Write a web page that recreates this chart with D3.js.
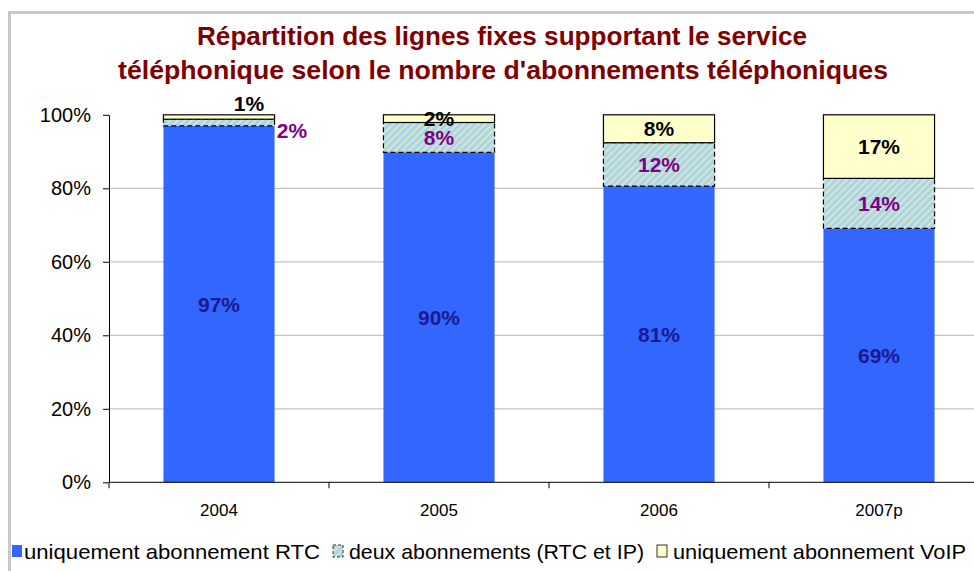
<!DOCTYPE html>
<html>
<head>
<meta charset="utf-8">
<script src="https://cdn.jsdelivr.net/npm/d3@7"></script>
<style>
  body { margin: 0; background: #fff; }
  text { font-family: "Liberation Sans", Arial, sans-serif; }
</style>
</head>
<body>
<div id="graphique"></div>
<script>
// Données
const annees = ["2004", "2005", "2006", "2007p"];
const rtcSeul = [97.0, 89.8, 80.6, 69.1];
const deuxAbonnements = [1.8, 8.1, 11.8, 13.6];
const voipSeul = [1.2, 2.1, 7.6, 17.3];
const etiquettesRtc = ["97%", "90%", "81%", "69%"];
const etiquettesDeux = ["2%", "8%", "12%", "14%"];
const etiquettesVoip = ["1%", "2%", "8%", "17%"];
const ticksY = [0, 20, 40, 60, 80, 100];
const nomsSeries = ["uniquement abonnement RTC", "deux abonnements (RTC et IP)", "uniquement abonnement VoIP"];

const largeur = 974, hauteur = 571;

const svg = d3.select("#graphique")
  .append("svg")
  .attr("width", largeur)
  .attr("height", hauteur);

// Motif hachuré pour la série "deux abonnements"
const defs = svg.append("defs");
const motif = defs.append("pattern")
  .attr("id", "hachures")
  .attr("patternUnits", "userSpaceOnUse")
  .attr("width", 5)
  .attr("height", 5)
  .attr("patternTransform", "rotate(45)");
motif.append("rect").attr("width", 5).attr("height", 5).attr("fill", "#a8d4f2");
motif.append("rect").attr("width", 1.6).attr("height", 5).attr("fill", "#e4ecb0");

// Cadre extérieur gris
svg.append("rect")
  .attr("x", 9.5).attr("y", 12.5)
  .attr("width", 1000).attr("height", 600)
  .attr("fill", "none")
  .attr("stroke", "#c8c8c8")
  .attr("stroke-width", 3);

// Titre
const titre = svg.append("text")
  .attr("text-anchor", "middle")
  .attr("fill", "#800000")
  .attr("font-weight", "bold")
  .attr("font-size", "26px");
titre.append("tspan").attr("x", 502).attr("y", 45)
  .attr("textLength", 610).attr("lengthAdjust", "spacingAndGlyphs")
  .text("Répartition des lignes fixes supportant le service");
titre.append("tspan").attr("x", 503).attr("y", 79)
  .attr("textLength", 770).attr("lengthAdjust", "spacingAndGlyphs")
  .text("téléphonique selon le nombre d'abonnements téléphoniques");

// Marges de la zone de tracé
const gauche = 109, droite = 989, haut = 114.8, bas = 482.3;

const x = d3.scaleBand()
  .domain(annees)
  .range([gauche, droite])
  .padding(0);

const y = d3.scaleLinear()
  .domain([0, 100])
  .range([bas, haut]);

// Lignes de quadrillage
svg.append("g")
  .selectAll("line")
  .data(ticksY.filter(d => d > 0 && d < 100))
  .enter()
  .append("line")
  .attr("x1", gauche).attr("x2", droite)
  .attr("y1", d => y(d)).attr("y2", d => y(d))
  .attr("stroke", "#c4c4c4")
  .attr("stroke-width", 1.2);

// Empilement des séries
const lignes = annees.map((a, i) => ({
  annee: a,
  rtc: rtcSeul[i], deux: deuxAbonnements[i], voip: voipSeul[i]
}));
const cles = ["rtc", "deux", "voip"];
const pile = d3.stack().keys(cles)(lignes);

const remplissages = { rtc: "#3366ff", deux: "url(#hachures)", voip: "#ffffcc" };
const largeurBarre = x.bandwidth() * 0.505;
const decalage = (x.bandwidth() - largeurBarre) / 2;

pile.forEach(serie => {
  svg.append("g")
    .selectAll("rect")
    .data(serie)
    .enter()
    .append("rect")
    .attr("x", d => x(d.data.annee) + decalage)
    .attr("y", d => y(d[1]))
    .attr("width", largeurBarre)
    .attr("height", d => y(d[0]) - y(d[1]))
    .attr("fill", remplissages[serie.key])
    .attr("stroke", serie.key === "rtc" ? "none" : "#000")
    .attr("stroke-width", serie.key === "rtc" ? 0 : 1.2)
    .attr("stroke-dasharray", serie.key === "deux" ? "5,3" : null);
});

// Axe Y
const axeY = svg.append("g")
  .attr("transform", `translate(${gauche},0)`)
  .call(d3.axisLeft(y).tickValues(ticksY).tickFormat(d => d + "%").tickSize(6).tickPadding(12).tickSizeOuter(0));
axeY.select(".domain").attr("stroke", "#000");
axeY.selectAll("text")
  .attr("font-size", "20px")
  .attr("font-family", "Liberation Sans, Arial, sans-serif")
  .attr("fill", "#000");

// Axe X : traits de séparation entre catégories
const axeX = svg.append("g").attr("transform", `translate(0,${bas})`);
axeX.append("line")
  .attr("x1", gauche).attr("x2", droite)
  .attr("stroke", "#000");
axeX.selectAll(".separateur")
  .data(annees)
  .enter()
  .append("line")
  .attr("x1", d => x(d)).attr("x2", d => x(d))
  .attr("y1", 0).attr("y2", 6)
  .attr("stroke", "#000");
axeX.selectAll(".annee")
  .data(annees)
  .enter()
  .append("text")
  .attr("x", d => x(d) + x.bandwidth() / 2)
  .attr("y", 34)
  .attr("text-anchor", "middle")
  .attr("font-size", "17px")
  .attr("fill", "#000")
  .text(d => d);

// Étiquettes de données
const couleursEtiquettes = { rtc: "#1a1a8f", deux: "#800080", voip: "#000" };
const textesEtiquettes = { rtc: etiquettesRtc, deux: etiquettesDeux, voip: etiquettesVoip };

pile.forEach(serie => {
  svg.append("g")
    .selectAll("text")
    .data(serie)
    .enter()
    .append("text")
    .attr("x", (d, i) => {
      const centre = x(d.data.annee) + x.bandwidth() / 2;
      // 2004 : étiquettes déplacées hors de la barre
      if (i === 0 && serie.key === "voip") return centre + 30;
      if (i === 0 && serie.key === "deux") return centre + 73;
      return centre;
    })
    .attr("y", (d, i) => {
      if (i === 0 && serie.key === "voip") return 103;
      if (i === 0 && serie.key === "deux") return 130;
      return (y(d[0]) + y(d[1])) / 2;
    })
    .attr("dy", "0.36em")
    .attr("text-anchor", "middle")
    .attr("font-weight", "bold")
    .attr("font-size", "21px")
    .attr("fill", couleursEtiquettes[serie.key])
    .text((d, i) => textesEtiquettes[serie.key][i]);
});

// Légende
const legende = svg.append("g").attr("transform", "translate(0,551)");
const positionsLegende = [12, 333, 657];
const longueursLegende = [296, 295, 293];
const couleursLegende = ["#3366ff", "url(#hachures)", "#ffffcc"];
nomsSeries.forEach((nom, i) => {
  const item = legende.append("g").attr("transform", `translate(${positionsLegende[i]},0)`);
  item.append("rect")
    .attr("x", 0).attr("y", -6)
    .attr("width", 10).attr("height", 12)
    .attr("fill", couleursLegende[i])
    .attr("stroke", i === 0 ? "none" : "#000")
    .attr("stroke-width", 0.8)
    .attr("stroke-dasharray", i === 1 ? "3,2" : null);
  item.append("text")
    .attr("x", i === 0 ? 12 : 16)
    .attr("dy", "0.36em")
    .attr("font-size", "21px")
    .attr("fill", "#000")
    .attr("textLength", longueursLegende[i])
    .attr("lengthAdjust", "spacingAndGlyphs")
    .text(nom);
});
</script>
</body>
</html>
